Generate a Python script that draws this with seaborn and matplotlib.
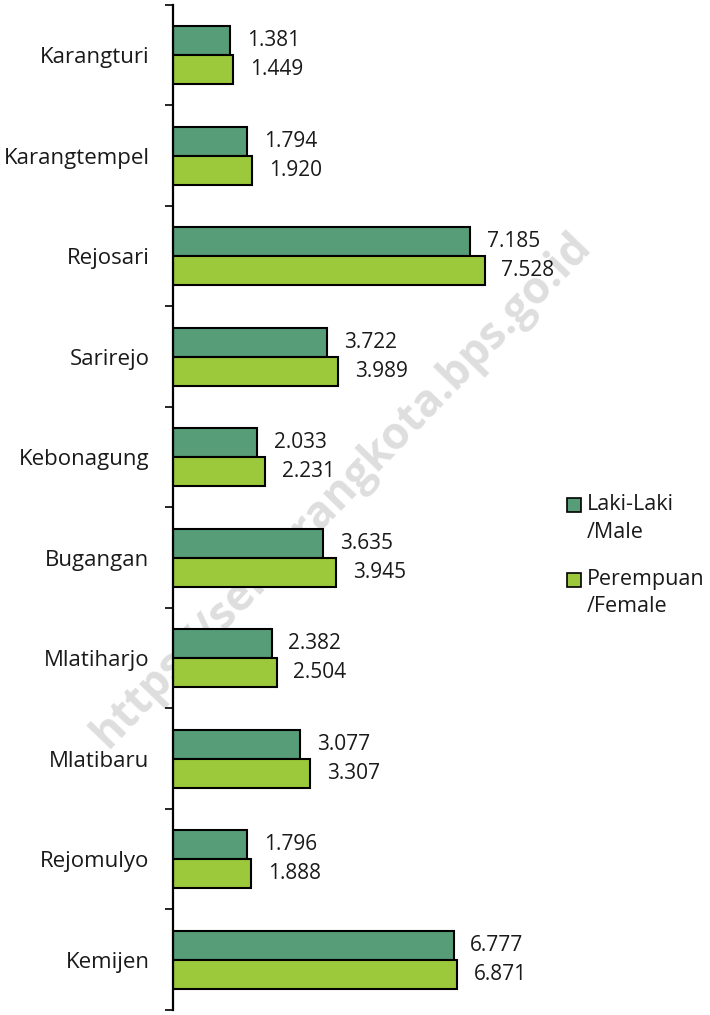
import matplotlib
matplotlib.use("Agg")
import matplotlib.pyplot as plt
from matplotlib.patches import Rectangle
import seaborn as sns
import pandas as pd

# data (values are persons; dot is thousands separator in the labels)
desa = ["Karangturi", "Karangtempel", "Rejosari", "Sarirejo", "Kebonagung",
        "Bugangan", "Mlatiharjo", "Mlatibaru", "Rejomulyo", "Kemijen"]
laki = [1381, 1794, 7185, 3722, 2033, 3635, 2382, 3077, 1796, 6777]
perempuan = [1449, 1920, 7528, 3989, 2231, 3945, 2504, 3307, 1888, 6871]
series = ["Laki-Laki", "Perempuan"]
series_en = ["/Male", "/Female"]
colors = ["#579E78", "#9BC93B"]

df = pd.DataFrame({
    "desa": desa * 2,
    "jumlah": laki + perempuan,
    "jk": [series[0]] * len(desa) + [series[1]] * len(desa),
})

sns.set_style("white")
plt.rcParams["font.family"] = ["Open Sans", "DejaVu Sans"]

W, H = 710, 1015
fig = plt.figure(figsize=(W / 100, H / 100), dpi=100)
ax = fig.add_axes([173 / W, 1 - 1010 / H, (560 - 173) / W, (1010 - 5) / H])
ax.patch.set_alpha(0)

sns.barplot(data=df, y="desa", x="jumlah", hue="jk", orient="h",
            palette=colors, saturation=1, edgecolor="black", linewidth=1.5,
            width=0.58, gap=0, legend=False, ax=ax, zorder=2)

for cont, vals in zip(ax.containers, [laki, perempuan]):
    ax.bar_label(cont, labels=[f"{v:,}".replace(",", ".") for v in vals],
                 padding=12, fontsize=15, color="#1a1a1a")

ax.set_xlim(0, (560 - 173) / 41.4 * 1000)
ax.set_ylim(len(desa) - 0.5, -0.5)
ax.set_xlabel("")
ax.set_ylabel("")
ax.set_xticks([])
for s in ["top", "right", "bottom"]:
    ax.spines[s].set_visible(False)
ax.spines["left"].set_linewidth(1.6)
ax.spines["left"].set_color("black")

ax.set_yticks([i - 0.5 for i in range(len(desa) + 1)], minor=True)
ax.tick_params(axis="y", which="minor", left=True, length=6, width=1.2,
               direction="out", color="black")
ax.tick_params(axis="y", which="major", length=0, pad=17, labelsize=16,
               labelcolor="#1a1a1a")

# legend: square aligned with the first line of each two-line label
leg_y = [505, 580]
for c, lab, lab_en, y in zip(colors, series, series_en, leg_y):
    fig.patches.append(Rectangle((567 / W, 1 - (y + 7) / H), 14 / W, 14 / H,
                                 transform=fig.transFigure, facecolor=c,
                                 edgecolor="black", linewidth=1.2))
    fig.text(587 / W, 1 - y / H, lab, ha="left", va="center", fontsize=15.5,
             color="#1a1a1a")
    fig.text(587 / W, 1 - (y + 27) / H, lab_en, ha="left", va="center",
             fontsize=15.5, color="#1a1a1a")

# watermark behind the bars
ax.text(0.481, 0.517, "https://semarangkota.bps.go.id", transform=fig.transFigure,
        rotation=46, ha="center", va="center", fontsize=32, fontweight="bold",
        color="#dedede", zorder=0.5, clip_on=False)

fig.savefig("out.png", dpi=100)
